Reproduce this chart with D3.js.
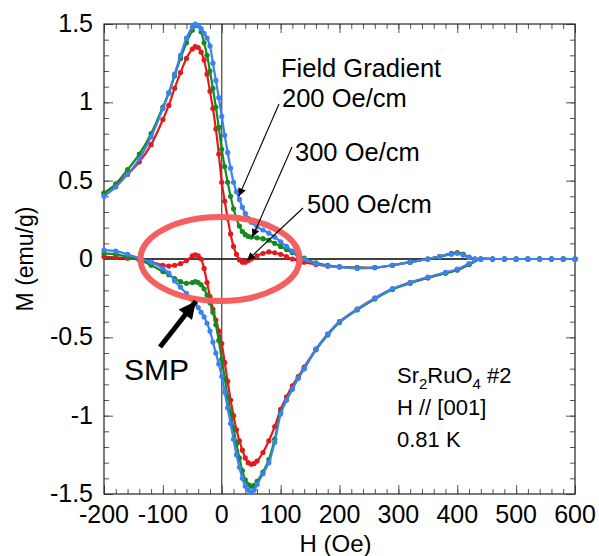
<!DOCTYPE html>
<html><head><meta charset="utf-8">
<script src="https://cdn.jsdelivr.net/npm/d3@7"></script>
<style>html,body{margin:0;padding:0;background:#fff;}svg{display:block;font-family:"Liberation Sans",Arial,sans-serif;}</style>
</head><body><svg id="c" width="599" height="556"></svg>
<script>
// ---- data ----
const upperH = [-200,-180,-160,-140,-120,-100,-90,-80,-70,-60,-50,-45,-40,-35,-30,-25,-20,-15,-10,-5,0,5,10,15,20,25,30,35,40,45,50,60,70,80,90,100,110,120,130,140,160,180,200,230,260,290,320,350,370,390,400,410,420,430,440,460,480,500,520,540,560,580,600];
const redUpper = [0.42,0.47,0.54,0.62,0.73,0.89,0.98,1.09,1.19,1.28,1.34,1.355,1.35,1.32,1.27,1.18,1.07,0.96,0.83,0.67,0.49,0.37,0.26,0.16,0.08,0.03,-0.005,-0.02,-0.02,-0.01,0.0,0.02,0.035,0.045,0.04,0.03,0.015,0.0,-0.01,-0.02,-0.035,-0.045,-0.05,-0.055,-0.055,-0.04,-0.02,0.0,0.015,0.035,0.04,0.03,0.01,0.0,0.0,0.0,0.0,0.0,0.0,0.0,0.0,0.0,0.0];
const greenUpper = [0.42,0.48,0.57,0.67,0.80,0.97,1.06,1.17,1.28,1.38,1.46,1.49,1.49,1.45,1.38,1.30,1.20,1.09,0.97,0.84,0.70,0.59,0.49,0.40,0.32,0.26,0.21,0.175,0.155,0.145,0.14,0.135,0.13,0.12,0.10,0.08,0.06,0.04,0.02,0.005,-0.025,-0.04,-0.05,-0.055,-0.055,-0.04,-0.02,0.0,0.015,0.035,0.04,0.03,0.01,0.0,0.0,0.0,0.0,0.0,0.0,0.0,0.0,0.0,0.0];
const blueUpper = [0.40,0.46,0.54,0.64,0.78,0.96,1.06,1.18,1.30,1.41,1.48,1.50,1.49,1.47,1.44,1.41,1.36,1.25,1.14,1.03,0.91,0.79,0.68,0.58,0.49,0.43,0.38,0.33,0.29,0.26,0.235,0.205,0.185,0.165,0.14,0.11,0.08,0.05,0.02,0.0,-0.03,-0.045,-0.05,-0.06,-0.055,-0.04,-0.02,0.0,0.015,0.03,0.035,0.025,0.01,0.0,0.0,0.0,0.0,0.0,0.0,0.0,0.0,0.0,0.0];

const lowerH = [-200,-180,-160,-140,-120,-100,-90,-80,-70,-60,-50,-45,-40,-35,-30,-25,-20,-15,-10,-5,0,5,10,15,20,25,30,35,40,45,50,55,60,70,80,90,100,110,120,130,140,160,180,200,230,260,290,320,350,380,400,420,440,460,480,500,520,540,560,580,600];
const redLower = [0.015,0.01,0.005,-0.005,-0.02,-0.04,-0.045,-0.04,-0.03,-0.01,0.02,0.026,0.02,0.0,-0.06,-0.15,-0.24,-0.32,-0.39,-0.46,-0.54,-0.66,-0.78,-0.90,-1.00,-1.09,-1.16,-1.22,-1.27,-1.30,-1.31,-1.305,-1.29,-1.235,-1.16,-1.07,-0.96,-0.88,-0.81,-0.75,-0.69,-0.575,-0.48,-0.40,-0.32,-0.25,-0.19,-0.15,-0.12,-0.09,-0.07,-0.035,0.0,0.0,0.0,0.0,0.0,0.0,0.0,0.0,0.0];
const greenLower = [0.036,0.03,0.015,-0.005,-0.04,-0.08,-0.10,-0.125,-0.145,-0.155,-0.15,-0.145,-0.15,-0.165,-0.19,-0.23,-0.28,-0.34,-0.42,-0.52,-0.64,-0.76,-0.88,-0.98,-1.08,-1.18,-1.27,-1.35,-1.41,-1.44,-1.45,-1.445,-1.42,-1.36,-1.28,-1.15,-0.98,-0.90,-0.83,-0.76,-0.70,-0.58,-0.485,-0.405,-0.325,-0.255,-0.195,-0.155,-0.12,-0.09,-0.07,-0.035,0.0,0.0,0.0,0.0,0.0,0.0,0.0,0.0,0.0];
const blueLower = [0.057,0.05,0.03,0.004,-0.02,-0.06,-0.09,-0.14,-0.18,-0.22,-0.26,-0.285,-0.31,-0.34,-0.37,-0.41,-0.46,-0.53,-0.60,-0.67,-0.75,-0.85,-0.95,-1.05,-1.15,-1.25,-1.33,-1.40,-1.45,-1.475,-1.49,-1.475,-1.44,-1.37,-1.30,-1.17,-0.99,-0.90,-0.83,-0.76,-0.70,-0.575,-0.48,-0.40,-0.32,-0.25,-0.19,-0.15,-0.115,-0.085,-0.065,-0.03,0.0,0.0,0.0,0.0,0.0,0.0,0.0,0.0,0.0];

const xTicks = [-200,-100,0,100,200,300,400,500,600];
const yTicks = [-1.5,-1,-0.5,0,0.5,1,1.5];
const seriesNames = ["500 Oe/cm","300 Oe/cm","200 Oe/cm"];
const seriesColors = ["#e3191c","#168a1f","#3b82f0"];

// ---- chart ----
const svg = d3.select("#c");
const L=104,R=575,T=24,B=494;
const x = d3.scaleLinear().domain([-200,600]).range([L,R]);
const y = d3.scaleLinear().domain([-1.5,1.5]).range([B,T]);

// zero lines
svg.append("line").attr("x1",x(0)).attr("x2",x(0)).attr("y1",T).attr("y2",B).attr("stroke","#444").attr("stroke-width",1.2);
svg.append("line").attr("x1",L).attr("x2",R).attr("y1",y(0)).attr("y2",y(0)).attr("stroke","#000").attr("stroke-width",1.5);

// axes with inward ticks
const minorX = d3.range(-200,601,20), minorY = d3.range(-15,16,1).map(d=>d/10);
function tickAxis(axisGen, tr){
  const g = svg.append("g").attr("transform",tr).call(axisGen);
  g.selectAll("text").remove(); g.select(".domain").remove();
  g.selectAll("line").attr("stroke","#555");
  return g;
}
tickAxis(d3.axisBottom(x).tickValues(minorX).tickSize(-5),`translate(0,${B})`);
tickAxis(d3.axisBottom(x).tickValues(xTicks).tickSize(-9),`translate(0,${B})`);
tickAxis(d3.axisTop(x).tickValues(minorX).tickSize(-5),`translate(0,${T})`);
tickAxis(d3.axisTop(x).tickValues(xTicks).tickSize(-9),`translate(0,${T})`);
tickAxis(d3.axisLeft(y).tickValues(minorY).tickSize(-5),`translate(${L},0)`);
tickAxis(d3.axisLeft(y).tickValues(yTicks).tickSize(-9),`translate(${L},0)`);
tickAxis(d3.axisRight(y).tickValues(minorY).tickSize(-5),`translate(${R},0)`);
tickAxis(d3.axisRight(y).tickValues(yTicks).tickSize(-9),`translate(${R},0)`);
svg.append("rect").attr("x",L).attr("y",T).attr("width",R-L).attr("height",B-T).attr("fill","none").attr("stroke","#222").attr("stroke-width",1.2);

// tick labels
svg.append("g").selectAll("text").data(xTicks).join("text")
  .attr("x",d=>x(d)).attr("y",B+29).attr("text-anchor","middle").attr("font-size",25).text(d=>String(d));
svg.append("g").selectAll("text").data(yTicks).join("text")
  .attr("x",L-11).attr("y",d=>y(d)+8).attr("text-anchor","end").attr("font-size",25).text(d=>String(d));
svg.append("text").attr("x",(L+R)/2-4).attr("y",552).attr("text-anchor","middle").attr("font-size",24).text("H (Oe)");
svg.append("text").attr("transform",`translate(33,${(T+B)/2}) rotate(-90)`).attr("text-anchor","middle").attr("font-size",23).text("M (emu/g)");

// curves
const line = d3.line().x(d=>x(d[0])).y(d=>y(d[1])).curve(d3.curveCatmullRom);
const series = [
  {up: redUpper, lo: redLower},
  {up: greenUpper, lo: greenLower},
  {up: blueUpper, lo: blueLower}
];
series.forEach((s,i)=>{
  const col = seriesColors[i];
  [[upperH,s.up],[lowerH,s.lo]].forEach(([hs,ms])=>{
    const pts = hs.map((h,k)=>[h,ms[k]]);
    svg.append("path").datum(pts).attr("d",line).attr("fill","none").attr("stroke",col).attr("stroke-width",2.2);
    svg.append("g").selectAll("circle").data(pts).join("circle")
      .attr("cx",d=>x(d[0])).attr("cy",d=>y(d[1])).attr("r",2.6).attr("fill",col);
  });
});

// ellipse
svg.append("ellipse").attr("cx",x(-3)).attr("cy",y(0)).attr("rx",x(135)-x(0)).attr("ry",y(0)-y(0.268))
  .attr("fill","none").attr("stroke","#f45f5f").attr("stroke-width",6);

// arrow markers
const defs = svg.append("defs");
defs.append("marker").attr("id","ah").attr("viewBox","0 0 10 10").attr("refX",10).attr("refY",5)
  .attr("markerWidth",11).attr("markerHeight",8).attr("markerUnits","userSpaceOnUse").attr("orient","auto")
  .append("path").attr("d","M0,0L10,5L0,10Z").attr("fill","#000");
defs.append("marker").attr("id","ahb").attr("viewBox","0 0 10 10").attr("refX",10).attr("refY",5)
  .attr("markerWidth",20).attr("markerHeight",17).attr("markerUnits","userSpaceOnUse").attr("orient","auto")
  .append("path").attr("d","M0,0L10,5L0,10Z").attr("fill","#000");

// annotation texts
const fs = 25.5;
svg.append("text").attr("x",281).attr("y",77).attr("font-size",fs).text("Field Gradient");
svg.append("text").attr("x",282).attr("y",107).attr("font-size",fs).text(seriesNames[2]);
svg.append("text").attr("x",295).attr("y",161).attr("font-size",fs).text(seriesNames[1]);
svg.append("text").attr("x",307).attr("y",213).attr("font-size",fs).text(seriesNames[0]);
function arrow(x1,y1,x2,y2,m,w){
  svg.append("line").attr("x1",x1).attr("y1",y1).attr("x2",x2).attr("y2",y2)
    .attr("stroke","#000").attr("stroke-width",w).attr("marker-end",`url(#${m})`);
}
arrow(279,104,x(29),y(0.40),"ah",1.1);
arrow(292,147,x(52),y(0.14),"ah",1.1);
arrow(303,208,x(43),y(-0.01),"ah",1.1);
arrow(160,347,x(-44),y(-0.27),"ahb",5);
svg.append("text").attr("x",124).attr("y",380).attr("font-size",30).text("SMP");

const info = svg.append("g").attr("font-size",22);
const t1 = info.append("text").attr("x",397).attr("y",383);
t1.append("tspan").text("Sr");
t1.append("tspan").attr("font-size",15).attr("dy",6).text("2");
t1.append("tspan").attr("dy",-6).text("RuO");
t1.append("tspan").attr("font-size",15).attr("dy",6).text("4");
t1.append("tspan").attr("dy",-6).text(" #2");
info.append("text").attr("x",397).attr("y",415).text("H // [001]");
info.append("text").attr("x",397).attr("y",447).text("0.81 K");
</script></body></html>
